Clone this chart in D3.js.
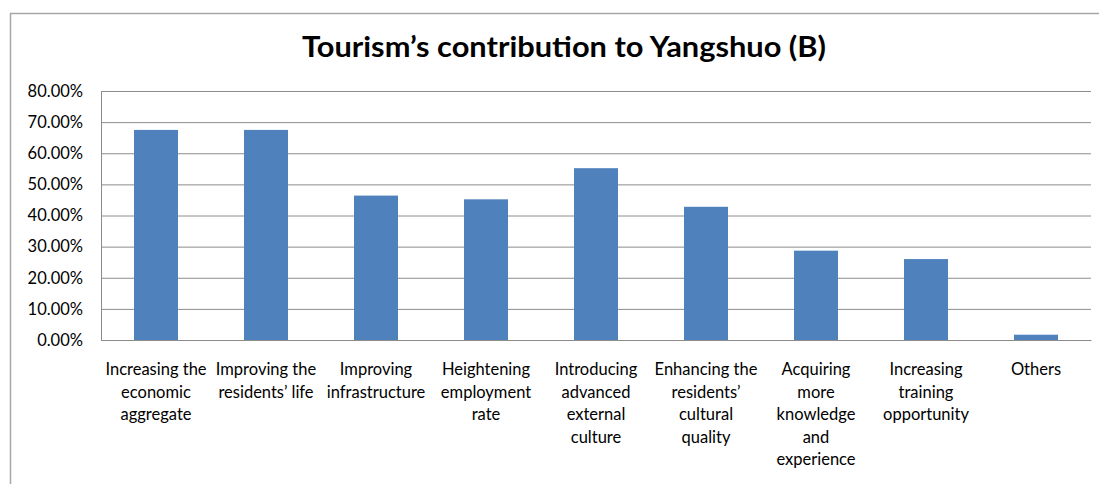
<!DOCTYPE html>
<html>
<head>
<meta charset="utf-8">
<script src="https://cdn.jsdelivr.net/npm/d3@7/dist/d3.min.js"></script>
<style>
  html, body { margin: 0; padding: 0; background: #fff; }
  svg { display: block; }
  text { font-family: Lato, "Open Sans", sans-serif; fill: #000; }
</style>
</head>
<body>
<svg id="chart" width="1099" height="484"></svg>
<script>
// Survey answers: what tourism contributes to Yangshuo (group B)
const categories = [
  "Increasing the\neconomic\naggregate",
  "Improving the\nresidents’ life",
  "Improving\ninfrastructure",
  "Heightening\nemployment\nrate",
  "Introducing\nadvanced\nexternal\nculture",
  "Enhancing the\nresidents’\ncultural\nquality",
  "Acquiring\nmore\nknowledge\nand\nexperience",
  "Increasing\ntraining\nopportunity",
  "Others"
];
const shares = [0.675, 0.675, 0.464, 0.452, 0.552, 0.428, 0.287, 0.260, 0.017];
const yTicks = [0, 0.1, 0.2, 0.3, 0.4, 0.5, 0.6, 0.7, 0.8];
const titleText = "Tourism’s contribution to Yangshuo (B)";

const svg = d3.select("#chart");
const plot = { left: 101, right: 1091, top: 91, bottom: 340 };

// Outer chart frame (open on the right and bottom edges of the view)
svg.append("path")
  .attr("d", "M10.5,490 V13.5 H1110")
  .attr("fill", "none")
  .attr("stroke", "#a6a6a6")
  .attr("stroke-width", 1.5);

// Title
svg.append("text")
  .attr("x", 564)
  .attr("y", 57)
  .attr("text-anchor", "middle")
  .attr("font-size", 28)
  .attr("font-weight", 700)
  .attr("textLength", 524)
  .attr("lengthAdjust", "spacingAndGlyphs")
  .text(titleText);

const x = d3.scaleBand()
  .domain(categories)
  .range([plot.left, plot.right])
  .paddingInner(0.6)
  .paddingOuter(0.3);

const y = d3.scaleLinear()
  .domain([0, 0.8])
  .range([plot.bottom, plot.top]);

// Gridlines and value axis
const yAxis = svg.append("g")
  .attr("transform", `translate(${plot.left},0)`)
  .call(d3.axisLeft(y)
    .tickValues(yTicks)
    .tickFormat(d3.format(".2%"))
    .tickSize(-(plot.right - plot.left))
    .tickPadding(18));
yAxis.select(".domain").attr("stroke", "#8c8c8c");
yAxis.selectAll(".tick line").attr("stroke", "#8c8c8c").attr("stroke-width", 1);
yAxis.selectAll(".tick text")
  .attr("font-size", 16.5)
  .attr("fill", "#111")
  .style("font-family", "Lato, 'Open Sans', sans-serif");

// Bars
svg.append("g")
  .selectAll("rect")
  .data(shares)
  .join("rect")
  .attr("x", (d, i) => x(categories[i]))
  .attr("y", d => y(d))
  .attr("width", x.bandwidth())
  .attr("height", d => y(0) - y(d))
  .attr("fill", "#4f81bd");

// Category axis with wrapped labels
const xAxis = svg.append("g")
  .attr("transform", `translate(0,${plot.bottom})`)
  .call(d3.axisBottom(x).tickSize(0).tickFormat(""));
xAxis.select(".domain").attr("stroke", "#8c8c8c").attr("stroke-width", 1.2);

xAxis.selectAll(".tick").each(function(d) {
  const t = d3.select(this).append("text")
    .attr("text-anchor", "middle")
    .attr("font-size", 16.5)
    .attr("fill", "#111")
    .style("font-family", "Lato, 'Open Sans', sans-serif");
  d.split("\n").forEach((line, k) => {
    t.append("tspan")
      .attr("x", 0)
      .attr("y", 35 + k * 22.5)
      .text(line);
  });
});
</script>
</body>
</html>
